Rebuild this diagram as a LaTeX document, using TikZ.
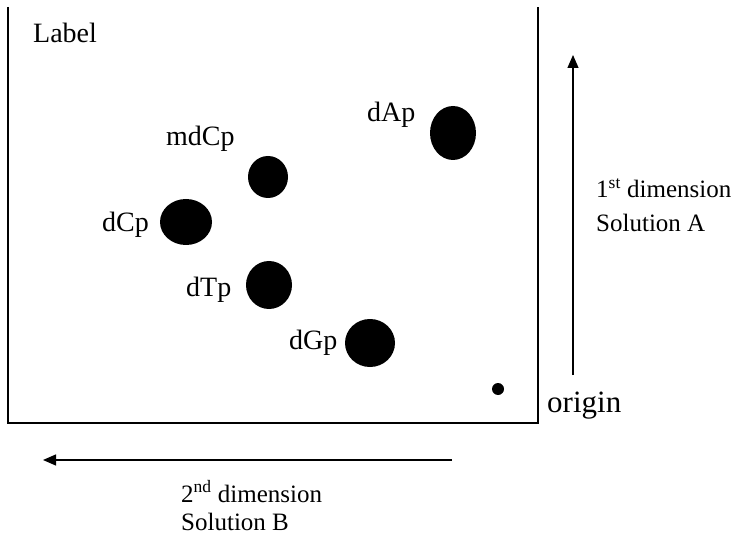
\documentclass[tikz,border=0pt]{standalone}
\usepackage{fontspec}
\setmainfont{Liberation Serif}
\usetikzlibrary{arrows.meta}
\begin{document}
\begin{tikzpicture}[x=1pt,y=-1pt,
  lbl/.style={font=\fontsize{28}{32}\selectfont,inner sep=0pt,anchor=base west},
  dimtext/.style={font=\fontsize{25}{28}\selectfont,inner sep=0pt,anchor=base west},
  axis/.style={line width=1.2pt,-{Triangle[length=13pt,width=11pt]}}]
\useasboundingbox (0,0) rectangle (736,537);
\coordinate (tl) at (8,7);
\coordinate (bl) at (8,423);
\coordinate (br) at (538,423);
\coordinate (tr) at (538,7);
\draw[line width=1.5pt] (tl) -- (bl) -- (br) -- (tr);
\fill (453,133) ellipse [x radius=23,y radius=27];
\fill (268,177) ellipse [x radius=20,y radius=21];
\fill (186,222) ellipse [x radius=26,y radius=23];
\fill (269,285) ellipse [x radius=23,y radius=24];
\fill (370,343) ellipse [x radius=25,y radius=24];
\fill (498,389) circle [radius=6];
\node[lbl] (tlabel) at (33,43) {Label};
\node[lbl] (tmdCp) at (166,146) {mdCp};
\node[lbl] (tdAp) at (367,122) {dAp};
\node[lbl] (tdCp) at (102,232) {dCp};
\node[lbl] (tdTp) at (186,297) {dTp};
\node[lbl] (tdGp) at (289,349) {dGp};
\node[font=\fontsize{31}{34}\selectfont,inner sep=0pt,anchor=base west] (torigin) at (547,412) {origin};
\node[dimtext] (dimA1) at (596,198) {1\textsuperscript{st} dimension};
\node[dimtext] (dimA2) at (596,232) {Solution A};
\node[dimtext] (dimB1) at (181,502) {2\textsuperscript{nd} dimension};
\node[dimtext] (dimB2) at (181,530) {Solution B};
\coordinate (a1) at (573,375);
\coordinate (a2) at (573,55);
\coordinate (b1) at (452,460);
\coordinate (b2) at (43,460);
\draw[axis] (a1) -- (a2);
\draw[axis] (b1) -- (b2);
\end{tikzpicture}
\end{document}
